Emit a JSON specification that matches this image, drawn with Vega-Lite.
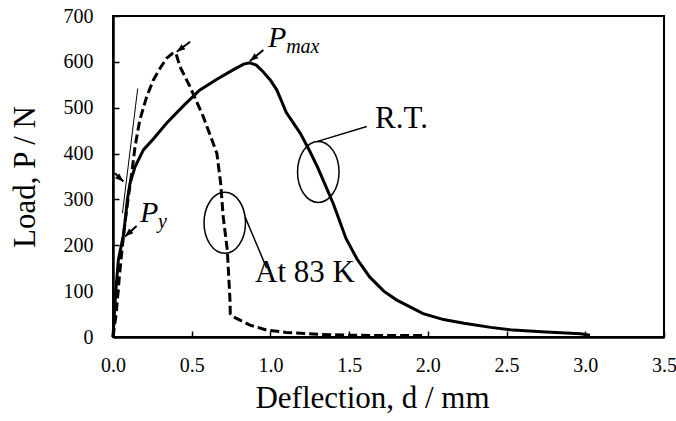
{
  "$schema": "https://vega.github.io/schema/vega-lite/v6.json",
  "width": 551,
  "height": 321,
  "autosize": {"type": "none"},
  "padding": {"left": 113, "top": 16, "right": 12, "bottom": 84},
  "background": "white",
  "config": {
    "font": "Liberation Serif",
    "view": {"stroke": "black", "strokeWidth": 2},
    "axis": {
      "grid": false,
      "domainColor": "black",
      "domainWidth": 2.5,
      "tickColor": "black",
      "tickSize": -6,
      "tickWidth": 1.5,
      "labelFlush": false,
      "labelFont": "Liberation Serif",
      "labelFontSize": 20,
      "labelColor": "black",
      "titleFont": "Liberation Serif",
      "titleFontSize": 31,
      "titleFontWeight": "normal",
      "titleColor": "black"
    }
  },
  "datasets": {
    "rt": [
      {"d": 0, "P": 0}, {"d": 0.01, "P": 60}, {"d": 0.02, "P": 110}, {"d": 0.034, "P": 168},
      {"d": 0.05, "P": 195}, {"d": 0.066, "P": 222}, {"d": 0.08, "P": 262}, {"d": 0.091, "P": 299},
      {"d": 0.108, "P": 335}, {"d": 0.14, "P": 371}, {"d": 0.193, "P": 408}, {"d": 0.256, "P": 432},
      {"d": 0.34, "P": 466}, {"d": 0.45, "P": 505}, {"d": 0.55, "P": 538}, {"d": 0.66, "P": 562},
      {"d": 0.76, "P": 582}, {"d": 0.83, "P": 595}, {"d": 0.87, "P": 598}, {"d": 0.91, "P": 593},
      {"d": 0.955, "P": 578}, {"d": 1.0, "P": 560}, {"d": 1.04, "P": 539}, {"d": 1.07, "P": 515},
      {"d": 1.1, "P": 490}, {"d": 1.19, "P": 444}, {"d": 1.25, "P": 405}, {"d": 1.3, "P": 370},
      {"d": 1.35, "P": 330}, {"d": 1.4, "P": 290}, {"d": 1.48, "P": 215}, {"d": 1.55, "P": 170},
      {"d": 1.63, "P": 131}, {"d": 1.72, "P": 100}, {"d": 1.8, "P": 81}, {"d": 1.97, "P": 51},
      {"d": 2.1, "P": 38}, {"d": 2.23, "P": 30}, {"d": 2.4, "P": 21}, {"d": 2.54, "P": 15},
      {"d": 2.75, "P": 11}, {"d": 2.97, "P": 7}, {"d": 3.03, "P": 4}
    ],
    "k83": [
      {"d": 0, "P": 0}, {"d": 0.02, "P": 50}, {"d": 0.04, "P": 130}, {"d": 0.06, "P": 200},
      {"d": 0.08, "P": 260}, {"d": 0.1, "P": 312}, {"d": 0.119, "P": 357}, {"d": 0.14, "P": 415},
      {"d": 0.17, "P": 473}, {"d": 0.214, "P": 524}, {"d": 0.256, "P": 560}, {"d": 0.299, "P": 586},
      {"d": 0.341, "P": 608}, {"d": 0.383, "P": 620}, {"d": 0.4, "P": 618}, {"d": 0.426, "P": 589},
      {"d": 0.489, "P": 546}, {"d": 0.574, "P": 480}, {"d": 0.637, "P": 422}, {"d": 0.66, "P": 400},
      {"d": 0.684, "P": 335}, {"d": 0.7, "P": 262}, {"d": 0.726, "P": 190}, {"d": 0.743, "P": 81},
      {"d": 0.745, "P": 51}, {"d": 0.764, "P": 44}, {"d": 0.87, "P": 26}, {"d": 0.977, "P": 15},
      {"d": 1.1, "P": 10}, {"d": 1.3, "P": 6}, {"d": 1.5, "P": 4}, {"d": 1.75, "P": 3}, {"d": 1.97, "P": 3}
    ],
    "tangent": [{"d": 0.06, "P": 270, "d2": 0.157, "P2": 542}],
    "arrows": [
      {"name": "left", "d": 0.066, "P": 339, "d2": 0.013, "P2": 357},
      {"name": "py", "d": 0.076, "P": 219, "d2": 0.15, "P2": 242},
      {"name": "pmax", "d": 0.87, "P": 602, "d2": 0.955, "P2": 626},
      {"name": "k83", "d": 0.405, "P": 622, "d2": 0.49, "P2": 644}
    ],
    "ellipses": [{"d": 0.71, "P": 249}, {"d": 1.304, "P": 360}],
    "leaders": [
      {"d": 0.839, "P": 262, "d2": 0.976, "P2": 150},
      {"d": 1.294, "P": 426, "d2": 1.612, "P2": 459}
    ],
    "labels": [
      {"d": 0.902, "P": 120, "label": "At 83 K"},
      {"d": 1.665, "P": 456, "label": "R.T."}
    ],
    "italicBig": [
      {"d": 0.985, "P": 633, "label": "P"},
      {"d": 0.172, "P": 251, "label": "P"}
    ],
    "italicSmall": [
      {"d": 1.1, "P": 619, "label": "max"},
      {"d": 0.286, "P": 237, "label": "y"}
    ]
  },
  "encoding": {
    "x": {
      "field": "d", "type": "quantitative",
      "scale": {"domain": [0, 3.5], "nice": false},
      "axis": {"values": [0, 0.5, 1, 1.5, 2, 2.5, 3, 3.5], "format": ".1f", "labelPadding": 24, "titlePadding": 8, "titleX": 259},
      "title": "Deflection, d / mm"
    },
    "y": {
      "field": "P", "type": "quantitative",
      "scale": {"domain": [0, 700], "nice": false},
      "axis": {"values": [0, 100, 200, 300, 400, 500, 600, 700], "format": "d", "labelPadding": 26, "titlePadding": 22},
      "title": "Load, P / N"
    }
  },
  "layer": [
    {
      "data": {"name": "rt"},
      "mark": {"type": "line", "color": "black", "strokeWidth": 3},
      "encoding": {"order": {"value": null}}
    },
    {
      "data": {"name": "k83"},
      "mark": {"type": "line", "color": "black", "strokeWidth": 3, "strokeDash": [9, 4]},
      "encoding": {"order": {"value": null}}
    },
    {
      "data": {"name": "tangent"},
      "mark": {"type": "rule", "color": "black", "strokeWidth": 1},
      "encoding": {"x2": {"field": "d2"}, "y2": {"field": "P2"}}
    },
    {
      "data": {"name": "arrows"},
      "mark": {"type": "rule", "color": "black", "strokeWidth": 2},
      "encoding": {"x2": {"field": "d2"}, "y2": {"field": "P2"}}
    },
    {
      "data": {"name": "arrows"},
      "transform": [{"filter": "datum.name === 'left'"}],
      "mark": {"type": "point", "shape": "M0,0 L-0.8,2.1 L0.8,2.1 Z", "size": 64, "filled": true, "color": "black", "opacity": 1, "angle": 132}
    },
    {
      "data": {"name": "arrows"},
      "transform": [{"filter": "datum.name === 'py'"}],
      "mark": {"type": "point", "shape": "M0,0 L-0.8,2.1 L0.8,2.1 Z", "size": 64, "filled": true, "color": "black", "opacity": 1, "angle": 228}
    },
    {
      "data": {"name": "arrows"},
      "transform": [{"filter": "datum.name === 'pmax'"}],
      "mark": {"type": "point", "shape": "M0,0 L-0.8,2.1 L0.8,2.1 Z", "size": 64, "filled": true, "color": "black", "opacity": 1, "angle": 231}
    },
    {
      "data": {"name": "arrows"},
      "transform": [{"filter": "datum.name === 'k83'"}],
      "mark": {"type": "point", "shape": "M0,0 L-0.8,2.1 L0.8,2.1 Z", "size": 64, "filled": true, "color": "black", "opacity": 1, "angle": 233}
    },
    {
      "data": {"name": "ellipses"},
      "mark": {
        "type": "point",
        "shape": "M0.68,0 C0.68,0.5523 0.3756,1 0,1 C-0.3756,1 -0.68,0.5523 -0.68,0 C-0.68,-0.5523 -0.3756,-1 0,-1 C0.3756,-1 0.68,-0.5523 0.68,0 Z",
        "size": 3721, "filled": false, "stroke": "black", "strokeWidth": 1.5, "opacity": 1
      }
    },
    {
      "data": {"name": "leaders"},
      "mark": {"type": "rule", "color": "black", "strokeWidth": 1.5},
      "encoding": {"x2": {"field": "d2"}, "y2": {"field": "P2"}}
    },
    {
      "data": {"name": "labels"},
      "mark": {"type": "text", "font": "Liberation Serif", "fontSize": 31, "align": "left", "baseline": "alphabetic", "color": "black"},
      "encoding": {"text": {"field": "label"}}
    },
    {
      "data": {"name": "italicBig"},
      "mark": {"type": "text", "font": "Liberation Serif", "fontSize": 30, "fontStyle": "italic", "align": "left", "baseline": "alphabetic", "color": "black"},
      "encoding": {"text": {"field": "label"}}
    },
    {
      "data": {"name": "italicSmall"},
      "mark": {"type": "text", "font": "Liberation Serif", "fontSize": 20, "fontStyle": "italic", "align": "left", "baseline": "alphabetic", "color": "black"},
      "encoding": {"text": {"field": "label"}}
    }
  ]
}
